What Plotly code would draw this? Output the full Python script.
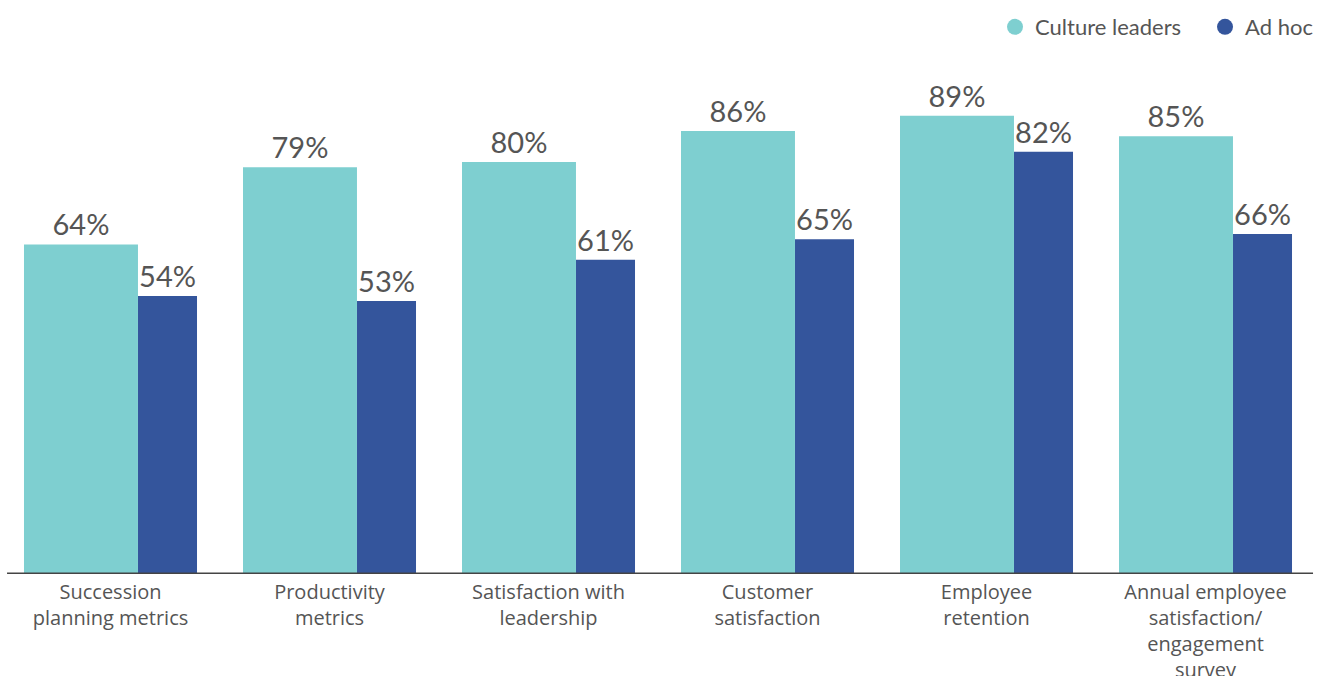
import plotly.graph_objects as go

categories = [
    "Succession<br>planning metrics",
    "Productivity<br>metrics",
    "Satisfaction with<br>leadership",
    "Customer<br>satisfaction",
    "Employee<br>retention",
    "Annual employee<br>satisfaction/<br>engagement<br>survey",
]
culture_leaders = [64, 79, 80, 86, 89, 85]
ad_hoc = [54, 53, 61, 65, 82, 66]

CYAN = "#7ecfd0"
BLUE = "#34559c"
TEXT = "#555555"
FONT = "Lato"

fig = go.Figure()
fig.add_trace(go.Bar(
    x=categories, y=culture_leaders, name="Culture leaders",
    marker=dict(color=CYAN, line=dict(width=0)),
    width=0.5205, offset=-0.395,
    text=[f"{v}%" for v in culture_leaders], textposition="outside",
    textfont=dict(size=29, color=TEXT, family=FONT),
    cliponaxis=False, showlegend=False,
))
fig.add_trace(go.Bar(
    x=categories, y=ad_hoc, name="Ad hoc",
    marker=dict(color=BLUE, line=dict(width=0)),
    width=0.2694, offset=0.1256,
    text=[f"{v}%" for v in ad_hoc], textposition="outside",
    textfont=dict(size=29, color=TEXT, family=FONT),
    cliponaxis=False, showlegend=False,
))
# legend entries with circle markers
fig.add_trace(go.Scatter(
    x=[None], y=[None], mode="markers", name="Culture leaders",
    marker=dict(color=CYAN, size=21, symbol="circle"), legend="legend",
))
fig.add_trace(go.Scatter(
    x=[None], y=[None], mode="markers", name="Ad hoc",
    marker=dict(color=BLUE, size=21, symbol="circle"), legend="legend2",
))

leg_common = dict(
    orientation="h", xanchor="right", y=1.062, yanchor="middle",
    font=dict(size=22, color=TEXT, family=FONT),
    itemwidth=30, bgcolor="rgba(0,0,0,0)",
)

fig.update_layout(
    width=1327, height=676,
    margin=dict(l=1, r=12, t=59, b=102, autoexpand=False),
    paper_bgcolor="white", plot_bgcolor="white",
    barmode="overlay",
    font=dict(family=FONT, color=TEXT, size=21),
    xaxis=dict(
        type="category", range=[-0.5, 5.5], automargin=False,
        showgrid=False, zeroline=False, showline=False,
        ticks="", ticklabelstandoff=4,
        tickfont=dict(size=20, color=TEXT, family="Open Sans"),
    ),
    yaxis=dict(
        range=[0, 100], visible=False, showgrid=False, zeroline=False,
        automargin=False,
    ),
    legend=dict(x=0.9026, **leg_common),
    legend2=dict(x=1.0023, **leg_common),
    shapes=[dict(
        type="line", xref="paper", yref="y",
        x0=0.0046, x1=0.9985, y0=0, y1=0,
        line=dict(color="#444444", width=3),
    )],
)

fig.write_html("out.html", config={"displayModeBar": False},
               post_script="document.body.style.margin='0';")
